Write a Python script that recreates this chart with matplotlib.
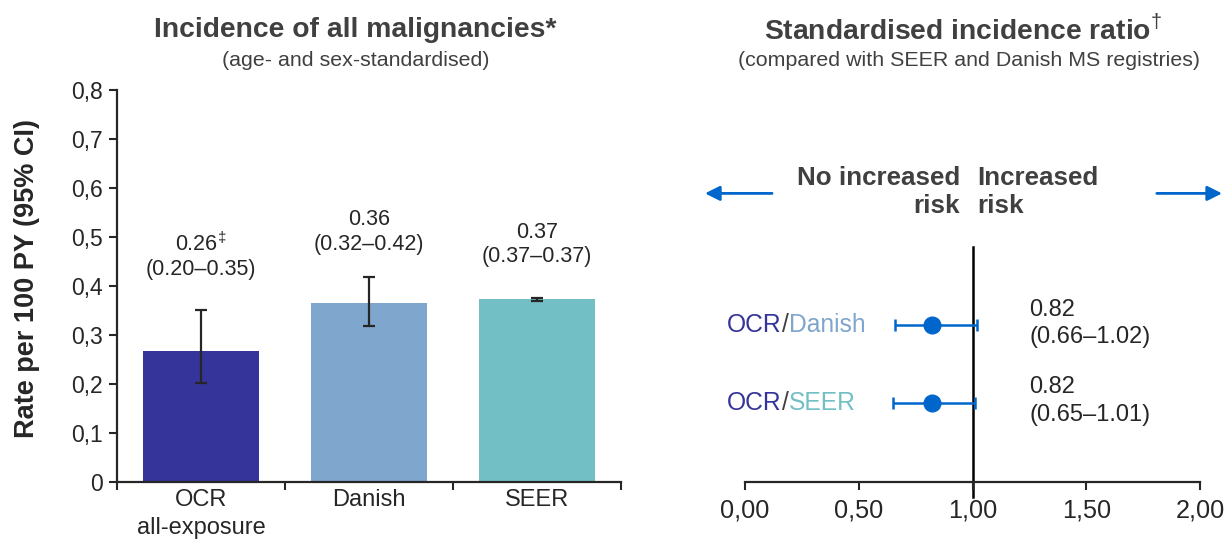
import numpy as np
import matplotlib
matplotlib.use("Agg")
import matplotlib.pyplot as plt

plt.rcParams['font.family'] = ['Liberation Sans', 'DejaVu Sans']
plt.rcParams['mathtext.fontset'] = 'custom'
plt.rcParams['mathtext.rm'] = 'Liberation Sans'

# --- data: incidence (left panel) ---
categories = ["OCR\nall-exposure", "Danish", "SEER"]
rates      = [0.267, 0.365, 0.373]
ci_low     = [0.203, 0.319, 0.370]
ci_high    = [0.352, 0.419, 0.375]
bar_labels = ["0.26$^{\\ddag}$\n(0.20\u20130.35)", "0.36\n(0.32\u20130.42)", "0.37\n(0.37\u20130.37)"]
label_y    = [0.46, 0.51, 0.484]
bar_colors = ["#35349A", "#7FA6CC", "#72BFC5"]
y_ticks    = [0, 0.1, 0.2, 0.3, 0.4, 0.5, 0.6, 0.7, 0.8]
y_ticklabels = ["0", "0,1", "0,2", "0,3", "0,4", "0,5", "0,6", "0,7", "0,8"]

# --- data: SIR (right panel) ---
sir_names  = [("OCR", "Danish"), ("OCR", "SEER")]
sir        = [0.82, 0.82]
sir_low    = [0.66, 0.65]
sir_high   = [1.02, 1.01]
sir_text   = ["0.82\n(0.66\u20131.02)", "0.82\n(0.65\u20131.01)"]
sir_ypos   = [0.32, 0.162]
x_ticks    = [0, 0.5, 1.0, 1.5, 2.0]
x_ticklabels = ["0,00", "0,50", "1,00", "1,50", "2,00"]

TXT = "#404040"
INK = "#262626"
BLUE = "#0066CC"
name_colors = {"OCR": "#35349A", "Danish": "#7FA6CC", "SEER": "#72BFC5"}

W, H = 1227, 541
fig = plt.figure(figsize=(W / 100, H / 100), dpi=100)

bottom = 1 - 482 / H
height = (482 - 90) / H

# ---------------- left panel ----------------
ax1 = fig.add_axes([117 / W, bottom, (621 - 117) / W, height])
x = np.arange(len(categories))
ax1.bar(x, rates, width=0.69, color=bar_colors, zorder=2)
yerr = [np.array(rates) - np.array(ci_low), np.array(ci_high) - np.array(rates)]
ax1.errorbar(x, rates, yerr=yerr, fmt='none', ecolor=INK, elinewidth=1.6,
             capsize=4.5, capthick=1.6, zorder=3)
for xi, lab, ly in zip(x, bar_labels, label_y):
    ax1.text(xi, ly, lab, ha='center', va='center', fontsize=15.5,
             color=INK, linespacing=1.2)

ax1.set_xlim(-0.5, 2.5)
ax1.set_ylim(0, 0.8)
ax1.set_yticks(y_ticks)
ax1.set_yticklabels(y_ticklabels, fontsize=16.5, color=INK)
ax1.set_xticks([-0.5, 0.5, 1.5, 2.5])
ax1.set_xticklabels([])
ax1.set_xticks(x, minor=True)
ax1.set_xticklabels(categories, minor=True, fontsize=17, color=INK,
                    linespacing=1.35)
ax1.tick_params(axis='x', which='minor', length=0, pad=5)
ax1.tick_params(axis='both', which='major', length=6, width=1.5, color=INK)
ax1.tick_params(axis='y', pad=4)
for s in ["top", "right"]:
    ax1.spines[s].set_visible(False)
for s in ["left", "bottom"]:
    ax1.spines[s].set_linewidth(1.6)
    ax1.spines[s].set_color(INK)

fig.text(27 / W, 1 - 278 / H, "Rate per 100 PY (95% CI)", rotation=90,
         ha='center', va='center', fontsize=19.5, fontweight='bold', color=INK)

fig.text(355 / W, 1 - 30 / H, "Incidence of all malignancies*", ha='center',
         va='center', fontsize=20.3, fontweight='bold', color=TXT)
fig.text(356 / W, 1 - 60 / H, "(age- and sex-standardised)", ha='center',
         va='center', fontsize=15.4, color=TXT)

# ---------------- right panel ----------------
ax2 = fig.add_axes([745 / W, bottom, (1200 - 745) / W, height])
ax2.set_xlim(0, 2)
ax2.set_ylim(0, 0.8)
for s in ["top", "right", "left"]:
    ax2.spines[s].set_visible(False)
ax2.spines["bottom"].set_linewidth(1.6)
ax2.spines["bottom"].set_color(INK)
ax2.set_yticks([])
ax2.set_xticks(x_ticks)
ax2.set_xticklabels(x_ticklabels, fontsize=18.2, color=INK)
ax2.tick_params(axis='x', length=6, width=1.5, color=INK, pad=6)

ax2.plot([1, 1], [-0.03, 0.48], color="black", lw=1.8, clip_on=False, zorder=1)

xerr = [np.array(sir) - np.array(sir_low), np.array(sir_high) - np.array(sir)]
ax2.errorbar(sir, sir_ypos, xerr=xerr, fmt='o', color=BLUE, ecolor=BLUE,
             markersize=12, elinewidth=1.8, capsize=4, capthick=1.8, zorder=3)

for (a, b), yp, txt in zip(sir_names, sir_ypos, sir_text):
    t = ax2.text(-0.079, yp, a, ha='left', va='center', fontsize=17.7,
                 color=name_colors[a])
    t2 = ax2.annotate("/", xy=(1, 0), xycoords=t, ha='left', va='bottom',
                      fontsize=17.7, color=TXT)
    ax2.annotate(b, xy=(1, 0), xycoords=t2, ha='left', va='bottom',
                 fontsize=17.7, color=name_colors[b])
    ax2.text(1.25, yp + 0.003, txt, ha='left', va='center', fontsize=17,
             color=INK, linespacing=1.32)

# direction arrows and labels
ax2.annotate("", xy=(-0.176, 0.589), xytext=(0.119, 0.589),
             arrowprops=dict(arrowstyle='-|>', color=BLUE, lw=2,
                             mutation_scale=22, shrinkA=0, shrinkB=0),
             annotation_clip=False)
ax2.annotate("", xy=(2.097, 0.589), xytext=(1.81, 0.589),
             arrowprops=dict(arrowstyle='-|>', color=BLUE, lw=2,
                             mutation_scale=22, shrinkA=0, shrinkB=0),
             annotation_clip=False)
ax2.text(0.945, 0.592, "No increased\nrisk", ha='right', va='center',
         multialignment='right', fontsize=18.7, fontweight='bold', color=TXT,
         linespacing=1.2)
ax2.text(1.02, 0.592, "Increased\nrisk", ha='left', va='center',
         multialignment='left', fontsize=18.7, fontweight='bold', color=TXT,
         linespacing=1.2)

fig.text(963 / W, 1 - 30 / H, "Standardised incidence ratio$^{\\dag}$",
         ha='center', va='center', fontsize=20.3, fontweight='bold', color=TXT)
fig.text(969 / W, 1 - 60 / H, "(compared with SEER and Danish MS registries)",
         ha='center', va='center', fontsize=15.4, color=TXT)

fig.savefig("out.png", dpi=100)
